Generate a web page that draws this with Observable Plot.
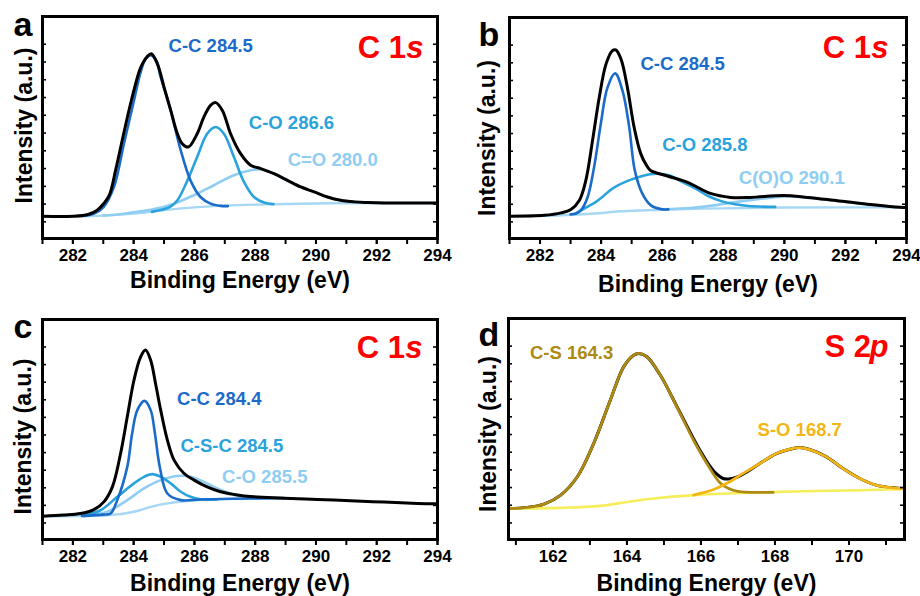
<!DOCTYPE html>
<html><head><meta charset="utf-8">
<script src="https://cdn.jsdelivr.net/npm/d3@7"></script>
<script src="https://cdn.jsdelivr.net/npm/@observablehq/plot@0.6"></script>
<style>
html,body{margin:0;padding:0;background:#fff;}
#wrap{position:relative;width:920px;height:596px;overflow:hidden;background:#fff;}
.panel{position:absolute;}
</style></head><body><div id="wrap"></div>
<script>
// ---------- Panel a : C 1s ----------
const aEnvelope = [[281.0,10.0],[282.0,10.0],[282.5,10.8],[282.8,12.7],[283.0,15.5],[283.2,19.5],[283.41,31.0],[283.66,46.5],[283.93,62.5],[284.23,77.0],[284.45,82.0],[284.58,83.2],[284.78,78.7],[285.0,68.2],[285.22,57.7],[285.44,47.2],[285.6,42.7],[285.8,41.2],[286.09,47.2],[286.31,54.7],[286.53,60.0],[286.7,61.2],[286.92,57.7],[287.19,47.2],[287.52,38.2],[287.85,33.0],[288.18,31.5],[288.62,29.2],[289.06,26.2],[289.5,23.2],[289.94,21.0],[290.38,18.7],[290.81,17.2],[291.25,16.5],[291.69,16.2],[292.24,16.0],[294.0,16.0]];
const aCC = [[282.3,10.1],[282.7,11.2],[283.0,14.0],[283.35,23.2],[283.68,42.7],[284.01,62.2],[284.23,75.0],[284.4,81.0],[284.58,82.5],[284.75,80.0],[284.89,72.7],[285.22,57.7],[285.55,39.7],[285.87,26.2],[286.2,18.7],[286.53,15.7],[286.86,14.7],[287.1,14.6]];
const aCO = [[284.6,12.0],[284.89,12.8],[285.2,14.2],[285.44,17.2],[285.77,26.2],[286.09,36.7],[286.42,47.2],[286.7,50.2],[286.97,47.2],[287.3,36.7],[287.63,25.5],[287.96,18.7],[288.29,16.2],[288.6,15.5]];
const aCdO = [[283.0,10.3],[283.46,10.8],[284.0,11.8],[284.56,12.9],[285.33,15.7],[285.98,19.5],[286.64,24.0],[287.3,28.5],[287.85,30.7],[288.18,31.2],[288.62,29.2],[289.06,26.2],[289.5,23.2],[289.94,21.0],[290.38,18.7],[290.81,17.2],[291.25,16.5],[291.69,16.2],[292.2,16.0]];
const aBackground = [[281.0,10.0],[282.3,10.0],[283.0,10.3],[284.0,11.2],[285.0,12.8],[286.0,14.0],[287.0,14.8],[288.5,15.4],[290.5,15.9],[294.0,16.0]];
const aLabels = ["C-C 284.5", "C-O 286.6", "C=O 280.0"];

// ---------- Panel b : C 1s ----------
const bEnvelope = [[281.0,10.1],[282.14,10.5],[282.69,11.6],[283.01,13.1],[283.29,17.3],[283.5,26.3],[283.72,44.4],[283.94,63.9],[284.16,78.9],[284.37,85.0],[284.48,85.3],[284.65,81.2],[284.86,68.4],[285.08,50.4],[285.3,38.3],[285.5,32.8],[285.62,30.8],[286.17,28.3],[286.83,25.4],[287.58,20.4],[288.24,18.6],[288.89,18.6],[289.97,19.5],[290.76,18.6],[291.61,17.3],[292.72,15.5],[293.8,14.1],[294.0,14.0]];
const bCC = [[283.0,10.9],[283.18,11.3],[283.34,12.8],[283.56,18.8],[283.77,32.3],[283.99,51.9],[284.21,68.4],[284.46,74.7],[284.7,66.9],[284.92,50.4],[285.1,31.0],[285.35,20.3],[285.63,15.0],[285.96,13.3],[286.2,13.2]];
const bCO = [[283.16,11.3],[283.5,14.0],[283.82,16.5],[284.0,18.3],[284.37,22.6],[284.91,26.3],[285.35,28.3],[285.79,29.3],[286.22,28.6],[286.65,25.6],[287.09,22.6],[287.52,19.1],[287.96,16.8],[288.39,15.5],[288.83,14.7],[289.7,14.3]];
const bCOO = [[286.0,13.2],[287.0,13.9],[287.7,15.0],[288.35,16.4],[289.0,17.6],[289.6,18.5],[290.1,19.0],[290.76,18.5],[291.61,17.2],[292.72,15.5],[293.8,14.1],[294.0,14.1]];
const bBackground = [[281.0,10.1],[282.7,10.5],[283.8,11.3],[284.6,12.3],[285.5,12.8],[287.3,13.5],[290.0,14.0],[294.0,14.1]];
const bLabels = ["C-C 284.5", "C-O 285.8", "C(O)O 290.1"];

// ---------- Panel c : C 1s ----------
const cEnvelope = [[281.0,10.6],[281.7,11.1],[282.25,11.8],[282.69,13.6],[283.02,17.1],[283.3,23.9],[283.57,39.1],[283.79,55.8],[284.01,72.4],[284.23,83.0],[284.39,86.1],[284.56,81.5],[284.72,70.9],[284.89,58.8],[285.11,45.2],[285.33,36.1],[285.66,30.0],[285.99,27.0],[286.42,23.9],[286.86,21.7],[287.3,20.5],[287.96,19.4],[288.95,18.8],[290.05,18.2],[291.14,17.6],[292.24,17.0],[293.34,16.4],[294.0,16.2]];
const cCC = [[282.3,10.7],[283.0,11.3],[283.24,11.8],[283.46,17.9],[283.79,33.0],[283.95,48.2],[284.12,58.8],[284.36,63.0],[284.56,58.8],[284.7,48.2],[284.86,33.0],[285.11,20.9],[285.55,17.9],[286.2,18.2],[287.3,18.5],[288.95,18.8]];
const cCSC = [[282.36,11.1],[282.91,13.3],[283.46,19.4],[284.01,25.5],[284.34,28.5],[284.61,29.7],[284.89,28.5],[285.22,25.5],[285.55,21.7],[285.87,19.4],[286.2,18.3],[286.75,18.2]];
const cCO = [[282.36,10.6],[283.13,12.6],[283.79,17.9],[284.34,23.2],[284.89,27.0],[285.44,28.9],[285.87,28.5],[286.31,26.2],[286.75,23.2],[287.19,20.9],[287.63,19.4],[288.18,18.8]];
const cBackground = [[281.0,10.6],[281.7,10.6],[283.24,11.1],[284.01,12.6],[284.56,14.8],[285.11,16.4],[285.66,17.4],[286.42,18.2],[287.3,18.5],[288.95,18.8]];
const cLabels = ["C-C 284.4", "C-S-C 284.5", "C-O 285.5"];

// ---------- Panel d : S 2p ----------
const dEnvelope = [[160.8,14.0],[161.31,14.5],[161.76,16.0],[162.21,20.1],[162.66,28.4],[163.1,43.4],[163.55,63.0],[163.91,78.1],[164.18,83.4],[164.32,84.2],[164.54,82.7],[164.9,74.4],[165.35,60.2],[165.8,45.6],[166.0,39.6],[166.2,34.2],[166.4,30.0],[166.6,27.6],[166.8,27.5],[167.0,28.4],[167.23,30.5],[167.59,34.4],[168.04,38.9],[168.49,41.2],[168.65,41.6],[168.94,40.7],[169.39,37.4],[169.84,32.1],[170.29,27.6],[170.73,24.6],[171.18,23.4],[171.5,23.1]];
const dCS = [[160.8,14.0],[161.31,14.5],[161.76,16.0],[162.21,20.1],[162.66,28.4],[163.1,43.4],[163.55,63.0],[163.91,78.1],[164.18,83.4],[164.32,84.2],[164.54,82.7],[164.9,74.4],[165.35,60.0],[165.8,44.9],[166.16,34.4],[166.52,25.6],[166.87,22.3],[167.23,21.4],[167.59,21.3],[167.95,21.3]];
const dSO = [[165.8,20.1],[166.34,22.6],[166.69,25.3],[167.14,29.9],[167.59,34.4],[168.04,38.9],[168.49,41.2],[168.65,41.6],[168.94,40.7],[169.39,37.4],[169.84,32.1],[170.29,27.6],[170.73,24.6],[171.18,23.4],[171.5,23.1]];
const dBackground = [[160.8,14.0],[162.21,14.3],[163.28,15.2],[164.0,17.0],[164.9,18.9],[165.8,20.1],[166.69,20.8],[168.49,21.7],[170.29,22.3],[171.5,22.8]];
const dLabels = ["C-S 164.3", "S-O 168.7"];

// ---------- axes / titles ----------
const cTicksMajor = [282, 284, 286, 288, 290, 292, 294];
const cTicksMinor = [281, 282, 283, 284, 285, 286, 287, 288, 289, 290, 291, 292, 293, 294];
const sTicksMajor = [162, 164, 166, 168, 170];
const sTicksMinor = [161, 162, 163, 164, 165, 166, 167, 168, 169, 170, 171];
const yTicks = [7.5, 15.5, 23.5, 31.5, 39.5, 47.5, 55.5, 63.5, 71.5, 79.5, 87.5];
const panelLetters = ["a", "b", "c", "d"];
const regionTitles = [["C 1", "s"], ["C 1", "s"], ["C 1", "s"], ["S 2", "p"]];
const xTitle = "Binding Energy (eV)";
const yTitle = "Intensity (a.u.)";

// ---------- colours ----------
const BLUE_DARK = "#1b6bc9", BLUE_MID = "#2aa3dc", BLUE_LIGHT = "#8fcdf2", BLUE_BG = "#a6d7f4";
const GOLD_DARK = "#ad8a12", GOLD = "#f3b614", YELLOW = "#f5ee5a";
const RED = "#ff0000";

const FONT = "'Liberation Sans', Arial, sans-serif";

const specs = [
  { left: 0, top: 0, ml: 42, mr: 23, mt: 16, mb: 60, xDomain: [281, 294], major: cTicksMajor, minor: cTicksMinor,
    letter: panelLetters[0], letterDx: -29, letterDy: 19, yDx: -18, yDy: -2, titleDy: 42,
    region: regionTitles[0], regionDx: -14, regionDy: 41,
    under: [[aBackground, BLUE_BG, 2.4], [aCdO, BLUE_LIGHT, 2.6], [aCO, BLUE_MID, 2.6], [aCC, BLUE_DARK, 2.6]],
    over: [], envelope: aEnvelope, envelopeOnTop: true,
    labels: [[aLabels[0], 285.15, 86.7, BLUE_DARK], [aLabels[1], 287.79, 52.0, BLUE_MID], [aLabels[2], 289.07, 35.2, BLUE_LIGHT]] },
  { left: 460, top: 0, ml: 49, mr: 14, mt: 17, mb: 60, xDomain: [281, 294], major: cTicksMajor, minor: cTicksMinor,
    letter: panelLetters[1], letterDx: -31, letterDy: 28, yDx: -22, yDy: 10, titleDy: 46,
    region: regionTitles[1], regionDx: -18, regionDy: 40,
    under: [[bBackground, BLUE_BG, 2.4], [bCOO, BLUE_LIGHT, 2.6], [bCO, BLUE_MID, 2.6], [bCC, BLUE_DARK, 2.6]],
    over: [], envelope: bEnvelope, envelopeOnTop: true,
    labels: [[bLabels[0], 285.29, 78.7, BLUE_DARK], [bLabels[1], 286.0, 42.2, BLUE_MID], [bLabels[2], 288.51, 27.2, BLUE_LIGHT]] },
  { left: 0, top: 298, ml: 42, mr: 23, mt: 21, mb: 57, xDomain: [281, 294], major: cTicksMajor, minor: cTicksMinor,
    letter: panelLetters[2], letterDx: -29, letterDy: 18, yDx: -19, yDy: 7, titleDy: 44,
    region: regionTitles[2], regionDx: -15, regionDy: 38,
    under: [[cBackground, BLUE_BG, 2.4], [cCO, BLUE_LIGHT, 2.6], [cCSC, BLUE_MID, 2.6], [cCC, BLUE_DARK, 2.6]],
    over: [], envelope: cEnvelope, envelopeOnTop: true,
    labels: [[cLabels[0], 285.43, 63.9, BLUE_DARK], [cLabels[1], 285.54, 42.5, BLUE_MID], [cLabels[2], 286.91, 28.5, BLUE_LIGHT]] },
  { left: 460, top: 298, ml: 48, mr: 16, mt: 20, mb: 57, xDomain: [160.8, 171.5], major: sTicksMajor, minor: sTicksMinor,
    letter: panelLetters[3], letterDx: -30, letterDy: 27, yDx: -20, yDy: 5, titleDy: 44,
    region: regionTitles[3], regionDx: -16, regionDy: 38,
    under: [], over: [[dBackground, YELLOW, 2.6], [dCS, GOLD_DARK, 2.8], [dSO, GOLD, 2.8]],
    envelope: dEnvelope, envelopeOnTop: false,
    labels: [[dLabels[0], 161.38, 84.4, GOLD_DARK], [dLabels[1], 167.53, 49.5, GOLD]] }
];

function line(data, color, w) {
  return Plot.line(data, { x: d => d[0], y: d => d[1], stroke: color, strokeWidth: w, curve: "catmull-rom", strokeLinejoin: "round", strokeLinecap: "round" });
}

function makePanel(s) {
  const W = 460, H = 298;
  const fw = W - s.ml - s.mr;
  const env = line(s.envelope, "#000", 3);
  const marks = [
    ...s.under.map(([d, c, w]) => line(d, c, w)),
    ...(s.envelopeOnTop ? [] : [env]),
    ...s.over.map(([d, c, w]) => line(d, c, w)),
    ...(s.envelopeOnTop ? [env] : []),
    ...s.labels.map(([t, x, y, c]) => Plot.text([t], { x: () => x, y: () => y, text: d => d, fill: c, fontSize: 18.5, fontWeight: "bold", textAnchor: "start", lineAnchor: "middle" })),
    Plot.tickY(yTicks, { y: d => d, insetRight: fw - 4, strokeWidth: 1.6 }),
    Plot.tickY(yTicks, { y: d => d, insetLeft: fw - 4, strokeWidth: 1.6 }),
    Plot.axisX({ anchor: "bottom", ticks: s.minor, tickSize: 6, strokeWidth: 2, tickFormat: () => "", label: null }),
    Plot.axisX({ anchor: "bottom", ticks: s.major, tickSize: 6, strokeWidth: 2, tickPadding: 4, fontSize: 17, fontWeight: "bold", label: null, tickFormat: d => String(d) }),
    Plot.frame({ stroke: "#000", strokeWidth: 3 }),
    Plot.text([xTitle], { frameAnchor: "bottom", dy: s.titleDy, fontSize: 23, fontWeight: "bold", lineAnchor: "middle", textAnchor: "middle" }),
    Plot.text([yTitle], { frameAnchor: "left", rotate: -90, dx: s.yDx, dy: s.yDy, fontSize: 23, fontWeight: "bold", lineAnchor: "middle", textAnchor: "middle" }),
    Plot.text([s.letter], { frameAnchor: "top-left", dx: s.letterDx, dy: s.letterDy, fontSize: 34, fontWeight: "bold", textAnchor: "start", lineAnchor: "bottom" }),
    Plot.text([s.region[1]], { frameAnchor: "top-right", dx: s.regionDx, dy: s.regionDy, fontSize: 31, fontWeight: "bold", fontStyle: "italic", fill: RED, textAnchor: "end", lineAnchor: "bottom" }),
    Plot.text([s.region[0]], { frameAnchor: "top-right", dx: s.regionDx - 17.5, dy: s.regionDy, fontSize: 31, fontWeight: "bold", fill: RED, textAnchor: "end", lineAnchor: "bottom" })
  ];
  return Plot.plot({
    width: W, height: H,
    marginLeft: s.ml, marginRight: s.mr, marginTop: s.mt, marginBottom: s.mb,
    x: { domain: s.xDomain },
    y: { domain: [0, 100], axis: null },
    style: { fontFamily: FONT, fontWeight: "bold", fontSize: "16px", color: "#000", background: "transparent", overflow: "visible" },
    marks
  });
}

const wrap = document.getElementById("wrap");
for (const s of specs) {
  const div = document.createElement("div");
  div.className = "panel";
  div.style.left = s.left + "px";
  div.style.top = s.top + "px";
  div.appendChild(makePanel(s));
  wrap.appendChild(div);
}
</script>
</body></html>
